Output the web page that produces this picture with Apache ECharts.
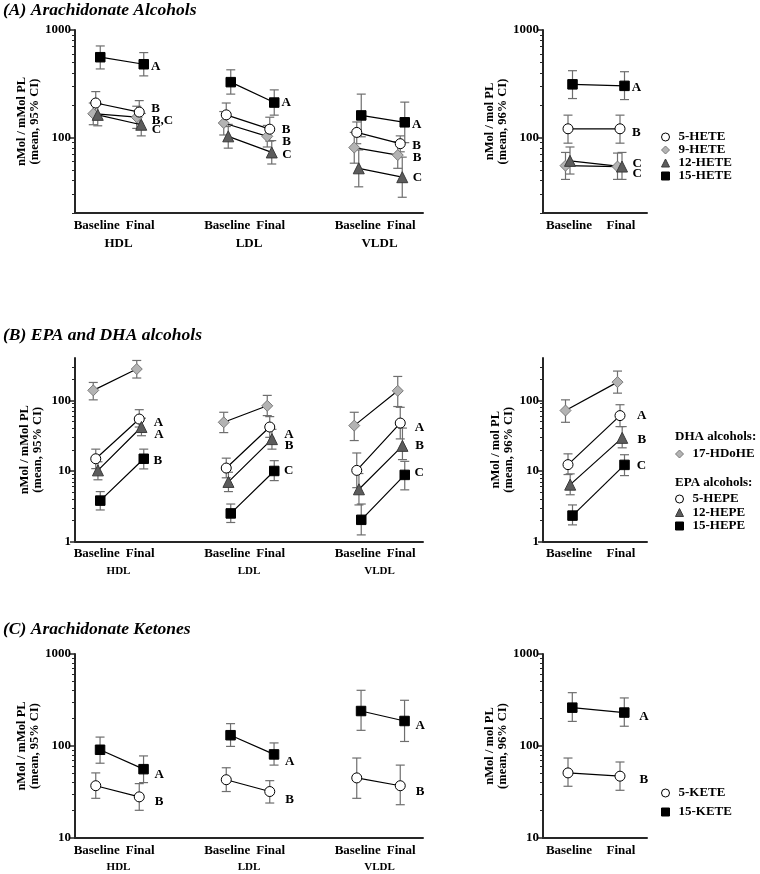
<!DOCTYPE html>
<html><head><meta charset="utf-8">
<script src="https://cdn.jsdelivr.net/npm/echarts@6/dist/echarts.min.js"></script>
<style>html,body{margin:0;padding:0;background:#fff}#c{width:760px;height:874px}</style>
</head><body><div id="c"></div>
<script>
// ---------------- categories & tick labels ----------------
const timeCats  = ['Baseline', 'Final', '', 'Baseline', 'Final', '', 'Baseline', 'Final'];
const lipoCats  = ['', 'HDL', '', '', 'LDL', '', '', 'VLDL', ''];
const totalCats = ['Baseline', 'Final'];
const ticksA = [100, 1000];
const minorA = [20, 30, 40, 50, 60, 70, 80, 90, 200, 300, 400, 500, 600, 700, 800, 900];
const ticksB = [1, 10, 100];
const minorB = [2, 3, 4, 5, 6, 7, 8, 9, 20, 30, 40, 50, 60, 70, 80, 90, 200, 300];
const ticksC = [10, 100, 1000];
const minorC = [20, 30, 40, 50, 60, 70, 80, 90, 200, 300, 400, 500, 600, 700, 800, 900];

// ---------------- data: [mean, lower CI, upper CI] ----------------
// lipoprotein order: HDL-Baseline, HDL-Final, LDL-Baseline, LDL-Final, VLDL-Baseline, VLDL-Final
// Panel A: arachidonate alcohols
const hete5  = [[210,162,268],[173,136,221],[163,127,210],[120,93,155],[112,88,140],[88,74,104]];
const hete9  = [[167,132,210],[155,122,196],[137,106,175],[103,82,130],[81,58,112],[69,52,92]];
const hete12 = [[163,129,206],[132,104,168],[103,80,133],[73,57,94],[52,35,77],[43,28,66]];
const hete15 = [[559,435,711],[481,375,617],[328,254,427],[212,162,278],[161,102,254],[139,90,214]];
const hete5Total  = [[121,89,162],[121,89,162]];
const hete9Total  = [[55,41,73],[54,41,72]];
const hete12Total = [[61,46,82],[54,41,73]];
const hete15Total = [[313,231,419],[303,226,410]];
// Panel B: EPA and DHA alcohols
const hdohe17 = [[139,102,180],[279,208,369],[49,35,68],[84,61,118],[44,27,68],[137,82,219]];
const hepe5   = [[14.9,10.8,20.4],[54.5,42,74],[11,8,15.2],[42,30,59],[10.2,5.8,18],[47.8,28.5,80]];
const hepe12  = [[10.2,7.5,13.5],[42,31.6,56],[7,5.1,9.6],[28.3,20.4,39],[5.5,3.3,9.2],[22.7,14.5,40.6]];
const hepe15  = [[3.8,2.8,5.1],[14.9,10.7,20.4],[2.5,1.86,3.4],[10,7.3,14],[2.03,1.24,3.4],[8.8,5.4,13.7]];
const hdohe17Total = [[72,49,102],[182,127,261]];
const hepe5Total   = [[12.3,8.9,17.5],[61,42.6,87]];
const hepe12Total  = [[6.4,4.6,9.1],[29.5,21.3,42.6]];
const hepe15Total  = [[2.33,1.72,3.3],[12.2,8.6,17]];
// Panel C: arachidonate ketones
const kete5  = [[37,27,51],[28,20,39],[43,32,58],[32,24,42],[45,27,74],[37,23,62]];
const kete15 = [[91,65,125],[56,40,78],[131,99,175],[81,62,108],[240,148,403],[187,112,314]];
const kete5Total  = [[51,36.5,74],[47,33,67]];
const kete15Total = [[261,185,380],[231,164,333]];

// significance letters (HDL, LDL, VLDL) and total
const lettersHete5  = ['B','B','B'],   letterHete5Total  = 'B';
const lettersHete9  = ['B,C','B','B'], letterHete9Total  = 'C';
const lettersHete12 = ['C','C','C'],   letterHete12Total = 'C';
const lettersHete15 = ['A','A','A'],   letterHete15Total = 'A';
const lettersHdohe17 = ['','',''],     letterHdohe17Total = '';
const lettersHepe5  = ['A','A','A'],   letterHepe5Total  = 'A';
const lettersHepe12 = ['A','B','B'],   letterHepe12Total = 'B';
const lettersHepe15 = ['B','C','C'],   letterHepe15Total = 'C';
const lettersKete5  = ['B','B','B'],   letterKete5Total  = 'B';
const lettersKete15 = ['A','A','A'],   letterKete15Total = 'A';

// ---------------- layout / style constants ----------------
const FONT = '"Liberation Serif", "Times New Roman", serif';
const AXIS_COLOR = '#262626';
const ERR_COLOR = '#6e6e6e';
const STY = {
  circle:   {symbol:'circle',   size:10,  fill:'#ffffff', border:'#000000'},
  diamond:  {symbol:'diamond',  size:11,  fill:'#b3b3b3', border:'#7a7a7a'},
  triangle: {symbol:'triangle', size:11,  fill:'#5c5c5c', border:'#3a3a3a'},
  square:   {symbol:'rect',     size:9.5, fill:'#000000', border:'#000000'}
};
// letter vertical nudges: [HDL, LDL, VLDL, total]
const NUDGE = {
  hete15:[2,0,2,2], hete5:[-3,0,2,4], hete9:[3,5,3,7], hete12:[5,2,0,-3],
  hdohe17:[0,0,0,0], hepe5:[4,8,5,0], hepe12:[8,7,0,2], hepe15:[2,0,-2,1],
  kete15:[5,7,5,4], kete5:[5,8,6,3]
};

const grids = [], xAxes = [], yAxes = [], series = [];
const lipoSlots = timeCats.map((c, i) => c ? i : -1).filter(i => i >= 0);
const totalSlots = totalCats.map((c, i) => i);

const txt = (size, extra) => Object.assign({fontFamily: FONT, fontWeight: 'bold', fontSize: size, color: '#000'}, extra || {});

function addGrid(rect, cats, withGroups, groupFont, yMin, yMax, ticks, minor, yName, nameGap) {
  const gi = grids.length;
  grids.push({left: rect.left, top: rect.top, width: rect.width, height: rect.height, containLabel: false});
  xAxes.push({type: 'category', gridIndex: gi, position: 'bottom', data: cats, boundaryGap: true,
    axisLine: {show: true, onZero: false, lineStyle: {color: AXIS_COLOR, width: 2}},
    axisTick: {show: false}, splitLine: {show: false},
    axisLabel: Object.assign({interval: 0, margin: 6}, txt(13))});
  if (withGroups) {
    xAxes.push({type: 'category', gridIndex: gi, position: 'bottom', data: lipoCats, boundaryGap: false,
      axisLine: {show: false, onZero: false}, axisTick: {show: false}, splitLine: {show: false},
      axisLabel: Object.assign({interval: 0, margin: 24}, txt(groupFont))});
  }
  const vx = xAxes.length;
  xAxes.push({type: 'value', gridIndex: gi, show: false, min: -0.5, max: cats.length - 0.5,
    axisLine: {onZero: false}});
  const vy = yAxes.length;
  yAxes.push({type: 'log', logBase: 10, gridIndex: gi, position: 'left', min: yMin, max: yMax,
    name: yName, nameLocation: 'middle', nameGap: nameGap, nameRotate: 90,
    nameTextStyle: txt(12.5, {lineHeight: 13}),
    axisLine: {show: true, onZero: false, lineStyle: {color: AXIS_COLOR, width: 2}},
    axisTick: {show: true, length: 5, customValues: ticks, lineStyle: {color: AXIS_COLOR, width: 1.5}},
    axisLabel: Object.assign({customValues: ticks, margin: 4, formatter: v => String(v)}, txt(13)),
    splitLine: {show: false}});
  yAxes.push({type: 'log', logBase: 10, gridIndex: gi, position: 'left', min: yMin, max: yMax,
    axisLine: {show: false, onZero: false},
    axisTick: {show: true, length: 3, customValues: minor, lineStyle: {color: AXIS_COLOR, width: 1}},
    axisLabel: {show: false}, splitLine: {show: false}});
  return {vx, vy, pxPerUnit: rect.width / cats.length};
}

function errRender(params, api) {
  const x = api.value(0);
  const p1 = api.coord([x, api.value(1)]);
  const p2 = api.coord([x, api.value(2)]);
  const cap = 4.5;
  const style = {stroke: ERR_COLOR, lineWidth: 1.2};
  return {type: 'group', children: [
    {type: 'line', shape: {x1: p1[0], y1: p1[1], x2: p2[0], y2: p2[1]}, style},
    {type: 'line', shape: {x1: p1[0] - cap, y1: p1[1], x2: p1[0] + cap, y2: p1[1]}, style},
    {type: 'line', shape: {x1: p2[0] - cap, y1: p2[1], x2: p2[0] + cap, y2: p2[1]}, style}
  ]};
}

function addCompound(g, slots, vals, letters, nudges, st, dodgePx, name, labelDist) {
  const d = dodgePx / g.pxPerUnit;
  series.push({type: 'custom', name: name + ' CI', xAxisIndex: g.vx, yAxisIndex: g.vy,
    data: vals.map((v, i) => [slots[i] + d, v[1], v[2]]),
    encode: {x: 0, y: [1, 2]}, renderItem: errRender, z: 1, silent: true, animation: false});
  const lineData = [];
  vals.forEach((v, i) => {
    if (i > 0 && slots[i] - slots[i - 1] > 1) lineData.push([slots[i] - 1, '-']);
    const item = {value: [slots[i] + d, v[0]]};
    const k = (i - 1) / 2;
    if (i % 2 === 1 && letters[k]) {
      item.label = {show: true, formatter: letters[k], offset: [-dodgePx, nudges[k]]};
    }
    lineData.push(item);
  });
  series.push({type: 'line', name: name, xAxisIndex: g.vx, yAxisIndex: g.vy, data: lineData,
    symbol: st.symbol, symbolSize: st.size, showSymbol: true, connectNulls: false,
    itemStyle: {color: st.fill, borderColor: st.border, borderWidth: 1, opacity: 1},
    lineStyle: {color: '#000', width: 1.2},
    label: Object.assign({show: false, position: 'right', distance: labelDist}, txt(13)),
    emphasis: {disabled: true}, z: 2, animation: false});
}

function panel(cfg) {
  const L = addGrid({left: 75, top: cfg.top, width: 348, height: cfg.height}, timeCats, true, cfg.groupFont,
    cfg.min, cfg.max, cfg.ticks, cfg.minor, 'nMol / mMol PL\n(mean, 95% CI)', 31);
  const R = addGrid({left: 543, top: cfg.top, width: 104, height: cfg.height}, totalCats, false, 0,
    cfg.min, cfg.max, cfg.ticks, cfg.minor, 'nMol / mol PL\n(mean, 96% CI)', 26);
  cfg.compounds.forEach(c => {
    addCompound(L, lipoSlots, c.lipo, c.letters, c.nudge.slice(0, 3), c.style, c.dodge, c.name, cfg.distL);
    addCompound(R, totalSlots, c.total, [c.letterTotal], [c.nudge[3]], c.style, c.dodge, c.name, cfg.distR);
  });
}

panel({top: 30, height: 183, min: 20, max: 1000, ticks: ticksA, minor: minorA, groupFont: 13, distL: 5.5, distR: 5.5,
  compounds: [
    {name: '9-HETE',  lipo: hete9,  total: hete9Total,  letters: lettersHete9,  letterTotal: letterHete9Total,  nudge: NUDGE.hete9,  style: STY.diamond,  dodge: -3.5},
    {name: '5-HETE',  lipo: hete5,  total: hete5Total,  letters: lettersHete5,  letterTotal: letterHete5Total,  nudge: NUDGE.hete5,  style: STY.circle,   dodge: -1},
    {name: '12-HETE', lipo: hete12, total: hete12Total, letters: lettersHete12, letterTotal: letterHete12Total, nudge: NUDGE.hete12, style: STY.triangle, dodge: 1},
    {name: '15-HETE', lipo: hete15, total: hete15Total, letters: lettersHete15, letterTotal: letterHete15Total, nudge: NUDGE.hete15, style: STY.square,   dodge: 3.5}
  ]});
panel({top: 358, height: 183.5, min: 1, max: 400, ticks: ticksB, minor: minorB, groupFont: 11, distL: 8, distR: 10.5,
  compounds: [
    {name: '17-HDoHE', lipo: hdohe17, total: hdohe17Total, letters: lettersHdohe17, letterTotal: letterHdohe17Total, nudge: NUDGE.hdohe17, style: STY.diamond, dodge: -3.5},
    {name: '5-HEPE',  lipo: hepe5,  total: hepe5Total,  letters: lettersHepe5,  letterTotal: letterHepe5Total,  nudge: NUDGE.hepe5,  style: STY.circle,   dodge: -1},
    {name: '12-HEPE', lipo: hepe12, total: hepe12Total, letters: lettersHepe12, letterTotal: letterHepe12Total, nudge: NUDGE.hepe12, style: STY.triangle, dodge: 1.2},
    {name: '15-HEPE', lipo: hepe15, total: hepe15Total, letters: lettersHepe15, letterTotal: letterHepe15Total, nudge: NUDGE.hepe15, style: STY.square,   dodge: 3.5}
  ]});
panel({top: 654, height: 184, min: 10, max: 1000, ticks: ticksC, minor: minorC, groupFont: 11, distL: 9, distR: 13,
  compounds: [
    {name: '5-KETE',  lipo: kete5,  total: kete5Total,  letters: lettersKete5,  letterTotal: letterKete5Total,  nudge: NUDGE.kete5,  style: STY.circle, dodge: -1},
    {name: '15-KETE', lipo: kete15, total: kete15Total, letters: lettersKete15, letterTotal: letterKete15Total, nudge: NUDGE.kete15, style: STY.square, dodge: 3.3}
  ]});

const legendItem = (name, st) => ({name: name, icon: st.symbol,
  itemStyle: {color: st.fill, borderColor: st.border, borderWidth: 1}});
const legendBase = {orient: 'vertical', padding: 0, itemWidth: 8, itemHeight: 8, selectedMode: false,
  textStyle: txt(13, {padding: [0, 0, 0, 4]})};
const legends = [
  Object.assign({}, legendBase, {left: 661, top: 130.5, itemGap: 0,
    data: [legendItem('5-HETE', STY.circle), legendItem('9-HETE', STY.diamond), legendItem('12-HETE', STY.triangle), legendItem('15-HETE', STY.square)]}),
  Object.assign({}, legendBase, {left: 675, top: 447.5, itemGap: 0,
    data: [legendItem('17-HDoHE', STY.diamond)]}),
  Object.assign({}, legendBase, {left: 675, top: 492.5, itemGap: 0.5,
    data: [legendItem('5-HEPE', STY.circle), legendItem('12-HEPE', STY.triangle), legendItem('15-HEPE', STY.square)]}),
  Object.assign({}, legendBase, {left: 661, top: 786.5, itemGap: 6,
    data: [legendItem('5-KETE', STY.circle), legendItem('15-KETE', STY.square)]})
];

const panelTitle = {fontFamily: FONT, fontStyle: 'italic', fontWeight: 'bold', fontSize: 17.5, color: '#000'};
const titles = [
  {text: '(A) Arachidonate Alcohols', left: 3, top: 1.5, padding: 0, textStyle: panelTitle},
  {text: '(B) EPA and DHA alcohols', left: 3, top: 326.5, padding: 0, textStyle: panelTitle},
  {text: '(C) Arachidonate Ketones', left: 3, top: 620.5, padding: 0, textStyle: panelTitle},
  {text: 'DHA alcohols:', left: 675, top: 430.5, padding: 0, textStyle: txt(13)},
  {text: 'EPA alcohols:', left: 675, top: 476.5, padding: 0, textStyle: txt(13)}
];

const chart = echarts.init(document.getElementById('c'), null, {renderer: 'canvas'});
chart.setOption({
  backgroundColor: '#ffffff',
  animation: false,
  title: titles,
  legend: legends,
  grid: grids,
  xAxis: xAxes,
  yAxis: yAxes,
  series: series
});
</script></body></html>
